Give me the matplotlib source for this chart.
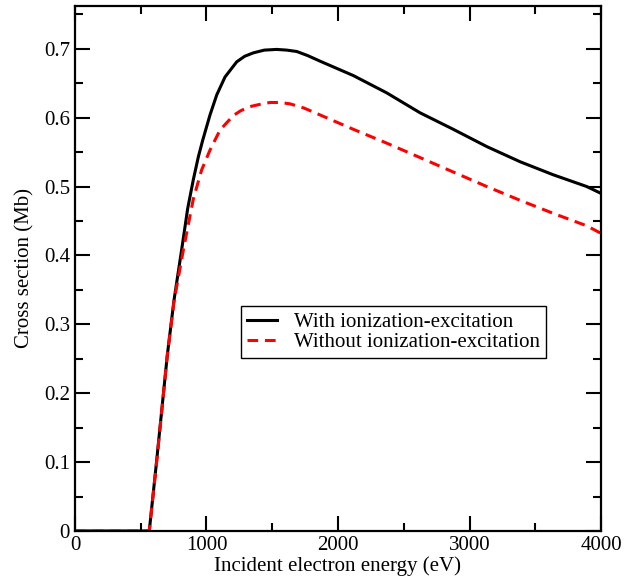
import numpy as np
import matplotlib
matplotlib.use("Agg")
import matplotlib.pyplot as plt
from matplotlib.ticker import MultipleLocator

# values (eV, Mb)
energy_with = [0, 300, 565, 620, 702, 753, 811, 857, 900, 938, 971, 1027,
               1078, 1141, 1230, 1290, 1356, 1440, 1534, 1610, 1686, 1770,
               1863, 2117, 2370, 2624, 2877, 3131, 3384, 3637, 3891, 4000]
xs_with = [0, 0, 0, 0.100, 0.255, 0.335, 0.408, 0.468, 0.510, 0.543,
           0.567, 0.604, 0.633, 0.659, 0.681, 0.689, 0.694, 0.698, 0.699,
           0.698, 0.696, 0.690, 0.682, 0.661, 0.636, 0.607, 0.583, 0.558,
           0.536, 0.517, 0.500, 0.490]

energy_without = [0, 300, 565, 620, 702, 753, 824, 900, 963, 1027, 1103,
                  1204, 1260, 1331, 1400, 1483, 1560, 1635, 1740, 1838, 2117,
                  2370, 2624, 2877, 3131, 3384, 3637, 3891, 4000]
xs_without = [0, 0, 0, 0.098, 0.255, 0.333, 0.408, 0.482, 0.524, 0.553,
              0.582, 0.603, 0.610, 0.616, 0.619, 0.622, 0.622, 0.620, 0.614,
              0.606, 0.583, 0.563, 0.542, 0.521, 0.500, 0.480, 0.461,
              0.443, 0.432]

plt.rcParams['font.family'] = ['Liberation Serif', 'DejaVu Serif']

fig = plt.figure(figsize=(6.37, 5.84), dpi=100)
ax = fig.add_axes([0.1177, 0.0908, 0.8258, 0.8989])

ax.plot(energy_with, xs_with, color='black', lw=2.2,
        label='With ionization-excitation')
ax.plot(energy_without, xs_without, color='red', lw=2.2, dashes=(3.5, 2.2),
        label='Without ionization-excitation')

ax.set_xlim(0, 4000)
ax.set_ylim(0, 0.762)
ax.xaxis.set_major_locator(MultipleLocator(1000))
ax.xaxis.set_minor_locator(MultipleLocator(500))
ax.yaxis.set_major_locator(MultipleLocator(0.1))
ax.yaxis.set_minor_locator(MultipleLocator(0.05))
ax.yaxis.set_major_formatter(plt.FuncFormatter(lambda v, p: '0' if abs(v) < 1e-9 else f'{v:.1f}'))

ax.tick_params(which='both', direction='in', top=True, right=True,
               width=1.5, labelsize=15)
ax.tick_params(which='major', length=11)
ax.tick_params(which='minor', length=5.8)
for s in ax.spines.values():
    s.set_linewidth(1.6)

ax.set_xlabel('Incident electron energy (eV)', fontsize=15, labelpad=1)
ax.set_ylabel('Cross section (Mb)', fontsize=15, labelpad=7)

leg = ax.legend(loc='upper left', bbox_to_anchor=(0.315, 0.4286),
                borderaxespad=0, fontsize=15, fancybox=False,
                edgecolor='black', handlelength=1.45, handletextpad=0.8,
                borderpad=0.3, labelspacing=0.02, framealpha=1)
leg.get_frame().set_linewidth(1.0)

fig.savefig('out.png', dpi=100)
